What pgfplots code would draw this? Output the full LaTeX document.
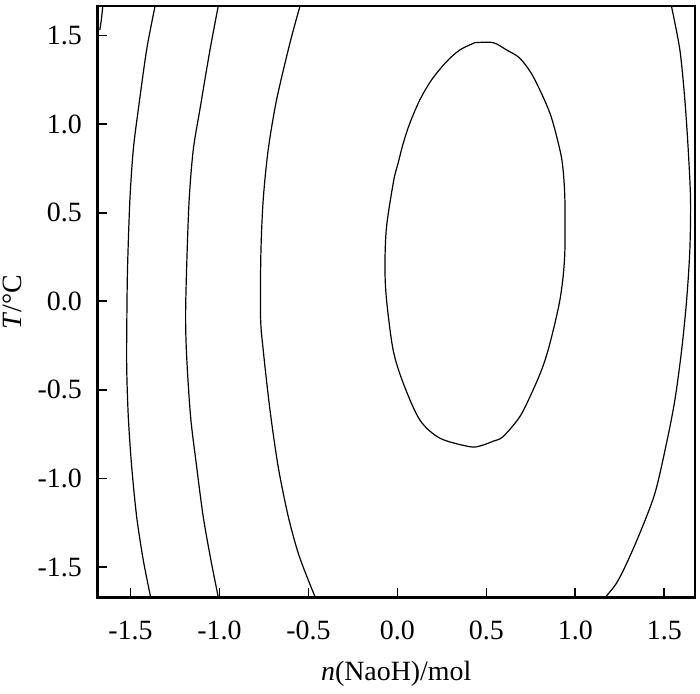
\documentclass[border=0pt]{standalone}
\usepackage{fontspec}
\setmainfont{Liberation Serif}
\usepackage{pgfplots}
\pgfplotsset{compat=1.18}

\begin{document}
\begin{tikzpicture}
% page frame, 1 px of the reference = 0.5bp
\useasboundingbox (-48.75bp,-48.15bp) rectangle (301.25bp,298.85bp);
\begin{axis}[
  at={(0,0)}, anchor=south west,
  scale only axis, width=298.75bp, height=295.85bp,
  xmin=-1.685, xmax=1.672, ymin=-1.673, ymax=1.666,
  xtick={-1.5,-1.0,-0.5,0,0.5,1.0,1.5},
  xticklabels={-1.5,-1.0,-0.5,0.0,0.5,1.0,1.5},
  ytick={-1.5,-1.0,-0.5,0,0.5,1.0,1.5},
  yticklabels={-1.5,-1.0,-0.5,0.0,0.5,1.0,1.5},
  tick pos=left, tick align=inside,
  major tick length=5bp,
  major tick style={line width=0.9bp, black},
  axis line style={line width=1bp},
  tick label style={font=\fontsize{14}{16}\selectfont},
  xticklabel style={inner sep=0pt, yshift=-11.5bp},
  yticklabel style={inner sep=0pt, xshift=-7.7bp},
  every axis x label/.style={at={(axis description cs:0.5,0)}, anchor=base, yshift=-41.2bp, font=\fontsize{14}{16}\selectfont},
  every axis y label/.style={at={(axis description cs:0,0.5)}, rotate=90, anchor=base, yshift=37.8bp, font=\fontsize{14}{16}\selectfont},
  xlabel={\textit{n}(NaoH)/mol},
  ylabel={\textit{T}/°C},
  contour/.style={black, solid, no marks, line width=0.6bp, smooth, tension=0.5},
]
% heavier left and bottom spines
\draw[line width=1.4bp] (rel axis cs:0,1) -- (rel axis cs:0,0) -- (rel axis cs:1,0);

% contour near the top-left corner
\addplot[contour] coordinates {(-1.655,1.67) (-1.662,1.60) (-1.672,1.53)};

% contour 1
\addplot[contour] coordinates {
(-1.362,1.663) (-1.409,1.418) (-1.456,1.080) (-1.484,0.854) (-1.503,0.572)
(-1.516,0.195) (-1.520,-0.087) (-1.521,-0.369) (-1.512,-0.651) (-1.493,-0.933)
(-1.465,-1.216) (-1.428,-1.460) (-1.387,-1.667)};

% contour 2
\addplot[contour] coordinates {
(-1.007,1.663) (-1.053,1.418) (-1.110,1.080) (-1.147,0.854) (-1.170,0.572)
(-1.184,0.195) (-1.190,-0.087) (-1.184,-0.313) (-1.162,-0.651) (-1.128,-0.933)
(-1.091,-1.216) (-1.048,-1.460) (-1.007,-1.667)};

% contour 3
\addplot[contour] coordinates {
(-0.548,1.663) (-0.604,1.456) (-0.679,1.136) (-0.726,0.854) (-0.754,0.572)
(-0.767,0.271) (-0.769,-0.087) (-0.754,-0.275) (-0.716,-0.613) (-0.670,-0.933)
(-0.613,-1.216) (-0.557,-1.422) (-0.501,-1.573) (-0.463,-1.667)};

% closed contour
\addplot[contour] coordinates {
(0.435,1.459) (0.538,1.459) (0.613,1.418) (0.688,1.371) (0.763,1.267)
(0.857,1.061) (0.913,0.854) (0.931,0.741) (0.941,0.572) (0.941,0.290)
(0.931,0.139) (0.913,0.007) (0.885,-0.124) (0.847,-0.275) (0.810,-0.388)
(0.754,-0.519) (0.688,-0.651) (0.594,-0.764) (0.538,-0.790) (0.470,-0.815)
(0.407,-0.821) (0.239,-0.773) (0.126,-0.670) (0.033,-0.463) (-0.024,-0.275)
(-0.061,0.007) (-0.070,0.195) (-0.061,0.421) (-0.020,0.685) (0.004,0.779)
(0.033,0.892) (0.070,1.005) (0.126,1.136) (0.192,1.249) (0.276,1.352)
(0.351,1.418) (0.435,1.459)};

% right contour
\addplot[contour] coordinates {
(1.540,1.663) (1.587,1.418) (1.615,1.136) (1.634,0.854) (1.647,0.572)
(1.643,0.290) (1.625,0.007) (1.597,-0.275) (1.559,-0.557) (1.512,-0.801)
(1.447,-1.083) (1.362,-1.309) (1.288,-1.479) (1.231,-1.591) (1.171,-1.667)};
\end{axis}
\end{tikzpicture}
\end{document}
